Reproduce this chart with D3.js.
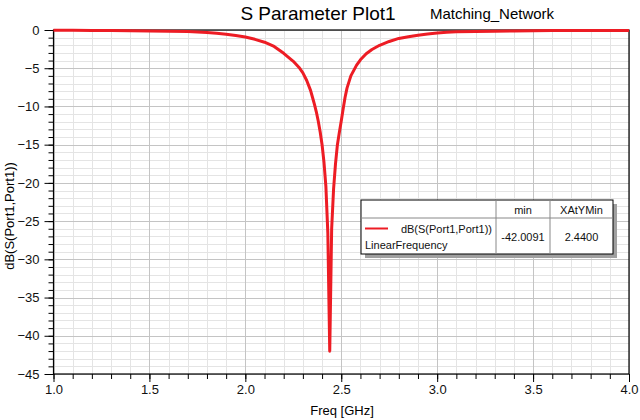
<!DOCTYPE html>
<html lang="en">
<head>
  <meta charset="UTF-8" />
  <title>S Parameter Plot1</title>
  <script src="https://d3js.org/d3.v7.min.js"></script>
  <style>
    body {
      margin: 0;
      background: #fff;
      font-family: 'Liberation Sans', Arial, sans-serif;
    }
    svg {
      display: block;
    }
    .grid-minor line {
      stroke: #e4e4e4;
    }
    .grid-major line {
      stroke: #c4c4c4;
    }
    .axis path, .axis line {
      stroke: #000;
    }
    .axis text {
      font: 13px 'Liberation Sans', Arial, sans-serif;
      fill: #111;
    }
    .legend text {
      font: 11px 'Liberation Sans', Arial, sans-serif;
      fill: #111;
    }
  </style>
</head>
<body>
  <svg width="640" height="420"></svg>

  <script>
    // values (GHz / dB)
    const freqGHz = [
      1.00, 1.10, 1.20, 1.30, 1.40, 1.50, 1.60, 1.70, 1.75, 1.80,
      1.85, 1.90, 1.95, 2.00, 2.05, 2.10, 2.15, 2.20, 2.25, 2.28,
      2.30, 2.32, 2.34, 2.35, 2.36, 2.37, 2.38, 2.39, 2.40, 2.41,
      2.42, 2.43, 2.44, 2.45, 2.46, 2.47, 2.48, 2.49, 2.50, 2.51,
      2.52, 2.53, 2.55, 2.58, 2.60, 2.63, 2.66, 2.70, 2.75, 2.80,
      2.85, 2.90, 2.95, 3.00, 3.05, 3.10, 3.20, 3.30, 3.40, 3.50,
      3.60, 3.80, 4.00
    ];
    const s11dB = [
      -0.02, -0.03, -0.05, -0.07, -0.10, -0.13, -0.17, -0.21, -0.25, -0.33,
      -0.43, -0.55, -0.72, -0.92, -1.22, -1.60, -2.15, -3.05, -4.10, -4.90,
      -5.60, -6.60, -7.90, -8.80, -9.70, -10.7, -11.9, -13.3, -15.0, -17.3,
      -20.5, -26.5, -42.0091, -26.0, -20.8, -17.5, -15.0, -13.4, -11.9, -10.3,
      -8.80, -7.60, -6.00, -4.60, -3.90, -3.10, -2.55, -2.00, -1.50, -1.10,
      -0.88, -0.68, -0.52, -0.40, -0.30, -0.24, -0.18, -0.15, -0.12, -0.10,
      -0.08, -0.07, -0.06
    ];

    const xMajor = [1.0, 1.5, 2.0, 2.5, 3.0, 3.5, 4.0];
    const xMinor = d3.range(10, 41).map(d => d / 10);
    const yMajor = [0, -5, -10, -15, -20, -25, -30, -35, -40, -45];
    const yMinor = d3.range(0, -46, -1);

    const legendHeaders = ["min", "XAtYMin"];
    const legendValues = ["-42.0091", "2.4400"];

    const svg = d3.select("svg");
    const plotL = 53.5, plotR = 629, plotT = 30, plotB = 374;

    const x = d3.scaleLinear().domain([1, 4]).range([plotL, plotR]);
    const y = d3.scaleLinear().domain([-45, 0]).range([plotB, plotT]);

    // grid
    const gMinor = svg.append("g").attr("class", "grid-minor");
    gMinor.selectAll("line.v").data(xMinor).join("line").attr("class", "v")
      .attr("x1", d => Math.round(x(d)) + 0.5).attr("x2", d => Math.round(x(d)) + 0.5)
      .attr("y1", plotT).attr("y2", plotB);
    gMinor.selectAll("line.h").data(yMinor).join("line").attr("class", "h")
      .attr("y1", d => Math.round(y(d)) + 0.5).attr("y2", d => Math.round(y(d)) + 0.5)
      .attr("x1", plotL).attr("x2", plotR);

    const gMajor = svg.append("g").attr("class", "grid-major");
    gMajor.selectAll("line.v").data(xMajor).join("line").attr("class", "v")
      .attr("x1", d => Math.round(x(d)) + 0.5).attr("x2", d => Math.round(x(d)) + 0.5)
      .attr("y1", plotT).attr("y2", plotB);
    gMajor.selectAll("line.h").data(yMajor).join("line").attr("class", "h")
      .attr("y1", d => Math.round(y(d)) + 0.5).attr("y2", d => Math.round(y(d)) + 0.5)
      .attr("x1", plotL).attr("x2", plotR);

    // axes
    svg.append("g").attr("class", "axis")
      .attr("transform", `translate(${plotL},0)`)
      .call(d3.axisLeft(y).tickValues(yMinor).tickSize(5).tickFormat(""))
      .call(g => g.select(".domain").remove());
    svg.append("g").attr("class", "axis")
      .attr("transform", `translate(${plotL},0)`)
      .call(d3.axisLeft(y).tickValues(yMajor).tickSize(9).tickPadding(5).tickFormat(d3.format("d")))
      .call(g => g.select(".domain").remove());

    svg.append("g").attr("class", "axis")
      .attr("transform", `translate(0,${plotB})`)
      .call(d3.axisBottom(x).tickValues(xMinor).tickSize(5).tickFormat(""))
      .call(g => g.select(".domain").remove());
    svg.append("g").attr("class", "axis")
      .attr("transform", `translate(0,${plotB})`)
      .call(d3.axisBottom(x).tickValues(xMajor).tickSize(8).tickPadding(3).tickFormat(d3.format(".1f")))
      .call(g => g.select(".domain").remove());

    // frame
    svg.append("rect")
      .attr("x", plotL).attr("y", plotT)
      .attr("width", plotR - plotL).attr("height", plotB - plotT)
      .attr("fill", "none").attr("stroke", "#000").attr("stroke-width", 1.2);

    // curve
    const line = d3.line()
      .x((d, i) => x(freqGHz[i]))
      .y(d => y(d));

    svg.append("path")
      .datum(s11dB)
      .attr("fill", "none")
      .attr("stroke", "#ed1c24")
      .attr("stroke-width", 3)
      .attr("stroke-linejoin", "round")
      .attr("d", line);

    // titles
    svg.append("text")
      .attr("x", 318).attr("y", 20)
      .attr("text-anchor", "middle")
      .style("font-size", "19px")
      .text("S Parameter Plot1");
    svg.append("text")
      .attr("x", 492).attr("y", 19)
      .attr("text-anchor", "middle")
      .style("font-size", "15px")
      .text("Matching_Network");

    svg.append("text")
      .attr("x", 342).attr("y", 415)
      .attr("text-anchor", "middle")
      .style("font-size", "13px")
      .text("Freq [GHz]");
    svg.append("text")
      .attr("transform", "translate(14,216) rotate(-90)")
      .attr("text-anchor", "middle")
      .style("font-size", "13px")
      .text("dB(S(Port1,Port1))");

    // legend table
    const lg = svg.append("g").attr("class", "legend");
    const lx = 361, ly = 200, lw = 252, lh = 54;
    const col1 = 496, col2 = 550, rowY = 218;

    lg.append("rect")
      .attr("x", lx + 4).attr("y", ly + 4)
      .attr("width", lw).attr("height", lh)
      .attr("fill", "#a0a0a0");
    lg.append("rect")
      .attr("x", lx).attr("y", ly)
      .attr("width", lw).attr("height", lh)
      .attr("fill", "#fff").attr("stroke", "#000");
    lg.append("line").attr("x1", lx).attr("x2", lx + lw).attr("y1", rowY).attr("y2", rowY)
      .attr("stroke", "#888");
    [col1, col2].forEach(cx => {
      lg.append("line").attr("x1", cx).attr("x2", cx).attr("y1", ly).attr("y2", ly + lh)
        .attr("stroke", "#888");
    });

    const colCenters = [(col1 + col2) / 2, (col2 + lx + lw) / 2];
    lg.selectAll("text.hdr").data(legendHeaders).join("text").attr("class", "hdr")
      .attr("x", (d, i) => colCenters[i]).attr("y", 214)
      .attr("text-anchor", "middle").text(d => d);
    lg.selectAll("text.val").data(legendValues).join("text").attr("class", "val")
      .attr("x", (d, i) => colCenters[i]).attr("y", 241)
      .attr("text-anchor", "middle").text(d => d);

    lg.append("line")
      .attr("x1", 365).attr("x2", 388).attr("y1", 228.5).attr("y2", 228.5)
      .attr("stroke", "#ed1c24").attr("stroke-width", 2);
    lg.append("text")
      .attr("x", 492).attr("y", 232.5)
      .attr("text-anchor", "end")
      .text("dB(S(Port1,Port1))");
    lg.append("text")
      .attr("x", 365).attr("y", 249)
      .text("LinearFrequency");
  </script>
</body>
</html>
